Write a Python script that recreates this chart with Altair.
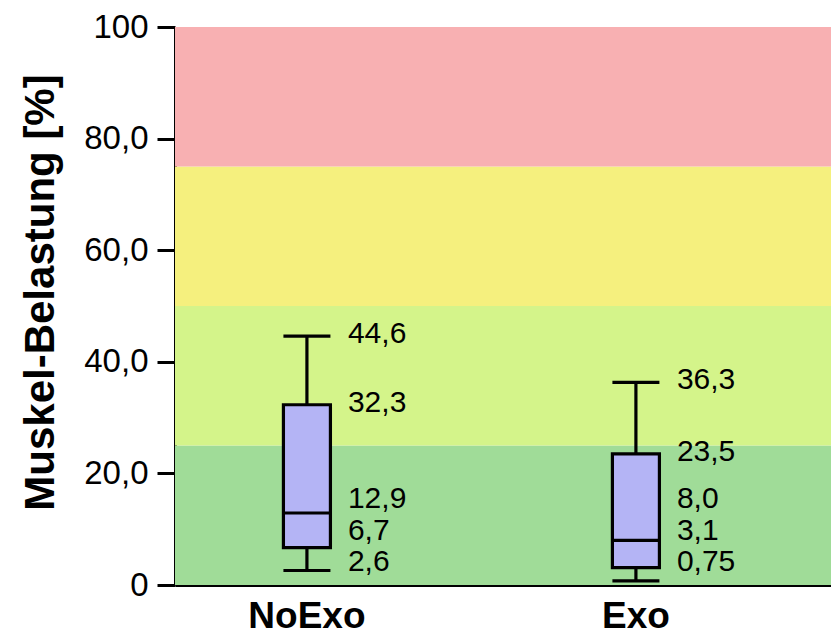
import altair as alt
import pandas as pd

# ---- data ----
groups = ["NoExo", "Exo"]
mins = [2.6, 0.75]
q1s = [6.7, 3.1]
medians = [12.9, 8.0]
q3s = [32.3, 23.5]
maxs = [44.6, 36.3]

zone_lo = [0, 25, 50, 75]
zone_hi = [25, 50, 75, 100]
zone_colors = ["#a0dc98", "#d4f48a", "#f5f07e", "#f8b0b2"]

y_ticks = [0, 20, 40, 60, 80, 100]


def de_fmt(v):
    s = f"{v:.2f}" if abs(v * 10 - round(v * 10)) > 1e-9 else f"{v:.1f}"
    return s.replace(".", ",")


# ---- tables ----
box_df = pd.DataFrame({"group": groups, "min": mins, "q1": q1s,
                       "median": medians, "q3": q3s, "max": maxs})

zone_df = pd.DataFrame({"lo": zone_lo, "hi": zone_hi, "color": zone_colors})

rows = []
for g, a, b, c, d, e in zip(groups, mins, q1s, medians, q3s, maxs):
    vals = [a, b, c, d, e]
    prev = None
    for v in vals:
        pos = max(v, 3.7) if prev is None else max(v, prev + 5.7)
        prev = pos
        rows.append({"group": g, "value": v, "pos": pos, "label": de_fmt(v)})
label_df = pd.DataFrame(rows)

FONT = "Liberation Sans"
BOXW = 47
LW = 3.2

x_enc = alt.X("group:N", sort=groups,
              scale=alt.Scale(paddingInner=0.198, paddingOuter=0.096, align=0),
              axis=alt.Axis(title=None, labelAngle=0, ticks=False,
                            labelFont=FONT, labelFontSize=37, labelFontWeight="bold",
                            labelColor="black", labelPadding=13,
                            domainColor="black", domainWidth=3))

y_scale = alt.Scale(domain=[0, 100], nice=False)
y_axis = alt.Axis(title="Muskel-Belastung [%]", values=y_ticks, grid=False,
                  labelExpr="datum.value == 0 ? '0' : datum.value == 100 ? '100' : replace(format(datum.value, '.1f'), '.', ',')",
                  labelFont=FONT, labelFontSize=33, labelColor="black", labelPadding=9,
                  tickSize=18, tickWidth=3, tickColor="black",
                  domainColor="black", domainWidth=3,
                  titleFont=FONT, titleFontSize=42, titleFontWeight="bold",
                  titleColor="black", titleX=-122, titleY=265,
                  titleBaseline="alphabetic", titleAngle=-90)

zones = alt.Chart(zone_df).mark_rect().encode(
    x=alt.value(0), x2=alt.value("width"),
    y=alt.Y("lo:Q", scale=y_scale, axis=y_axis),
    y2="hi:Q",
    color=alt.Color("color:N", scale=None),
)

base = alt.Chart(box_df).encode(x=x_enc)

whisker = base.mark_rule(color="black", strokeWidth=LW).encode(
    y=alt.Y("min:Q", scale=y_scale), y2="max:Q")

box = base.mark_bar(size=BOXW, fill="#b4b4f5", stroke="black", strokeWidth=LW).encode(
    y=alt.Y("q1:Q", scale=y_scale), y2="q3:Q")

median = base.mark_tick(size=BOXW, thickness=LW, color="black", opacity=1).encode(
    y=alt.Y("median:Q", scale=y_scale))

cap_lo = base.mark_tick(size=BOXW, thickness=LW, color="black", opacity=1).encode(
    y=alt.Y("min:Q", scale=y_scale))
cap_hi = base.mark_tick(size=BOXW, thickness=LW, color="black", opacity=1).encode(
    y=alt.Y("max:Q", scale=y_scale))

labels = alt.Chart(label_df).mark_text(
    align="left", baseline="middle", dx=41, dy=-2,
    font=FONT, fontSize=30, color="black").encode(
    x=alt.X("group:N", sort=groups),
    y=alt.Y("pos:Q", scale=y_scale),
    text="label:N")

chart = alt.layer(zones, whisker, box, median, cap_lo, cap_hi, labels).properties(
    width=656, height=558,
    autosize=alt.AutoSizeParams(type="none"),
    padding={"left": 167, "top": 19, "right": 0, "bottom": 52},
).configure_view(stroke=None)

chart.save("out.html", embed_options={"renderer": "svg", "actions": False})
